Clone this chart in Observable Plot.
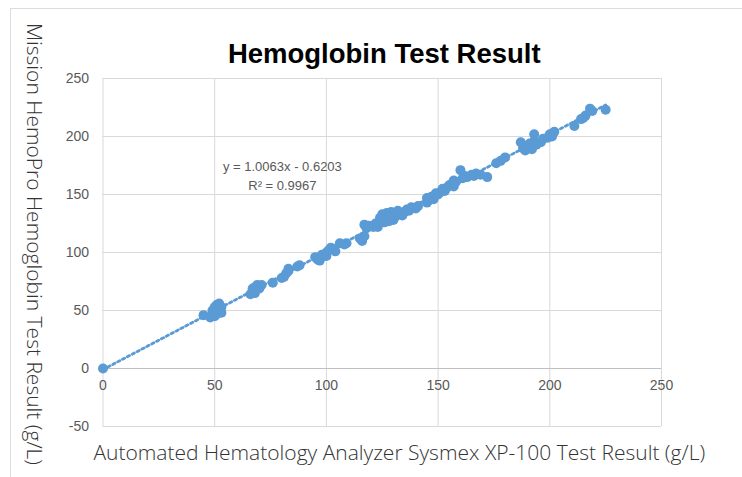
<!DOCTYPE html>
<html>
<head>
<meta charset="utf-8">
<script src="https://cdn.jsdelivr.net/npm/d3@7"></script>
<script src="https://cdn.jsdelivr.net/npm/@observablehq/plot@0.6"></script>
<style>
  html, body { margin: 0; padding: 0; background: #fff; }
  #wrap { position: relative; width: 742px; height: 477px; overflow: hidden; }
  #border { position: absolute; left: 10px; top: 8px; right: -2px; bottom: -2px; border-top: 1px solid #dcdcdc; border-left: 1px solid #dcdcdc; }
  #chart { position: absolute; left: 0; top: 0; }
</style>
</head>
<body>
<div id="wrap"><div id="border"></div><div id="chart"></div></div>
<script>
// Sysmex XP-100 result (g/L)
const xVals = [0,
  45,48,49,50,50,51,51,52,52,53,53,49,50,51,
  66,67,68,68,69,70,70,67,71,76,
  81,82,83,83,80,87,88,
  95,96,97,98,99,100,100,101,102,103,104,106,108,109,
  115,116,117,117,118,119,121,122,123,124,124,125,125,126,126,127,127,128,128,129,129,130,130,131,132,133,134,135,136,137,138,140,141,
  145,145,146,147,148,149,150,151,152,153,154,155,156,157,157,158,
  160,161,162,163,165,166,167,169,172,176,178,180,
  187,188,189,190,191,192,193,193,194,196,197,199,200,201,202,
  211,214,215,216,218,219,225];
// Mission HemoPro result (g/L)
const yVals = [0,
  46,44,47,45,49,52,55,50,56,48,53,50,53,47,
  64,67,70,65,72,69,71,69,72,74,
  79,82,84,86,78,88,89,
  96,94,93,98,97,100,97,102,104,103,101,108,107,108,
  112,110,114,124,121,123,122,125,122,127,130,128,133,126,131,129,134,127,132,130,135,128,133,131,136,134,132,135,137,136,139,138,140,
  147,143,145,148,146,151,150,152,155,153,156,158,159,157,162,161,
  171,164,166,165,167,166,168,167,165,177,179,182,
  195,190,188,192,194,189,202,196,193,195,198,199,202,200,204,
  209,215,216,218,224,222,223];

const xTicks = [0, 50, 100, 150, 200, 250];
const yTicks = [-50, 0, 50, 100, 150, 200, 250];

const titleText = "Hemoglobin Test Result";
const xLabel = "Automated Hematology Analyzer Sysmex XP-100 Test Result (g/L)";
const yLabel = "Mission HemoPro Hemoglobin Test Result (g/L)";
const annotations = [
  {x: 80.3, y: 173.5, text: "y = 1.0063x - 0.6203"},
  {x: 80.3, y: 157.2, text: "R\u00b2 = 0.9967"}
];

const data = xVals.map((x, i) => ({x, y: yVals[i]}));
const blue = "#5B9BD5";
const labelFont = "'Open Sans', 'Liberation Sans', sans-serif";

const chart = Plot.plot({
  width: 742,
  height: 477,
  marginLeft: 102.5,
  marginRight: 81,
  marginTop: 78,
  marginBottom: 51,
  x: {domain: [0, 250], axis: null},
  y: {domain: [-50, 250]},
  style: {fontFamily: "'Liberation Sans', Arial, sans-serif", background: "transparent", overflow: "visible"},
  marks: [
    Plot.gridX(xTicks, {stroke: "#d9d9d9", strokeOpacity: 1, strokeWidth: 1}),
    Plot.gridY(yTicks, {stroke: "#d9d9d9", strokeOpacity: 1, strokeWidth: 1}),
    Plot.ruleY([0], {stroke: "#bfbfbf", strokeWidth: 1.2}),
    Plot.axisY(yTicks, {tickSize: 0, tickPadding: 14, fontSize: 14, fill: "#595959", label: null, tickFormat: d => String(d)}),
    Plot.text(xTicks, {x: d => d, y: 0, dy: 17, text: d => String(d), fontSize: 14, fill: "#595959"}),
    Plot.linearRegressionY(data, {x: "x", y: "y", ci: 0, stroke: blue, strokeWidth: 2.8, strokeDasharray: "2.5,3"}),
    Plot.dot(data, {x: "x", y: "y", r: 5, fill: blue, stroke: null}),
    Plot.text(annotations, {x: "x", y: "y", text: "text", fontSize: 13, fill: "#595959"}),
    Plot.text([titleText], {frameAnchor: "top", dx: 2, dy: -35, text: d => d, fontSize: 27.5, fontWeight: "bold", fill: "#000", fontFamily: "'Liberation Sans', Arial, sans-serif"}),
    Plot.text([xLabel], {frameAnchor: "bottom", dx: 17, dy: 33, text: d => d, fontSize: 21, fontWeight: 300, fill: "#333", fontFamily: labelFont}),
    Plot.text([yLabel], {frameAnchor: "left", textAnchor: "middle", dx: -69, dy: -8.5, rotate: 90, text: d => d, fontSize: 21, fontWeight: 300, fill: "#333", fontFamily: labelFont})
  ]
});
document.getElementById("chart").appendChild(chart);
</script>
</body>
</html>
